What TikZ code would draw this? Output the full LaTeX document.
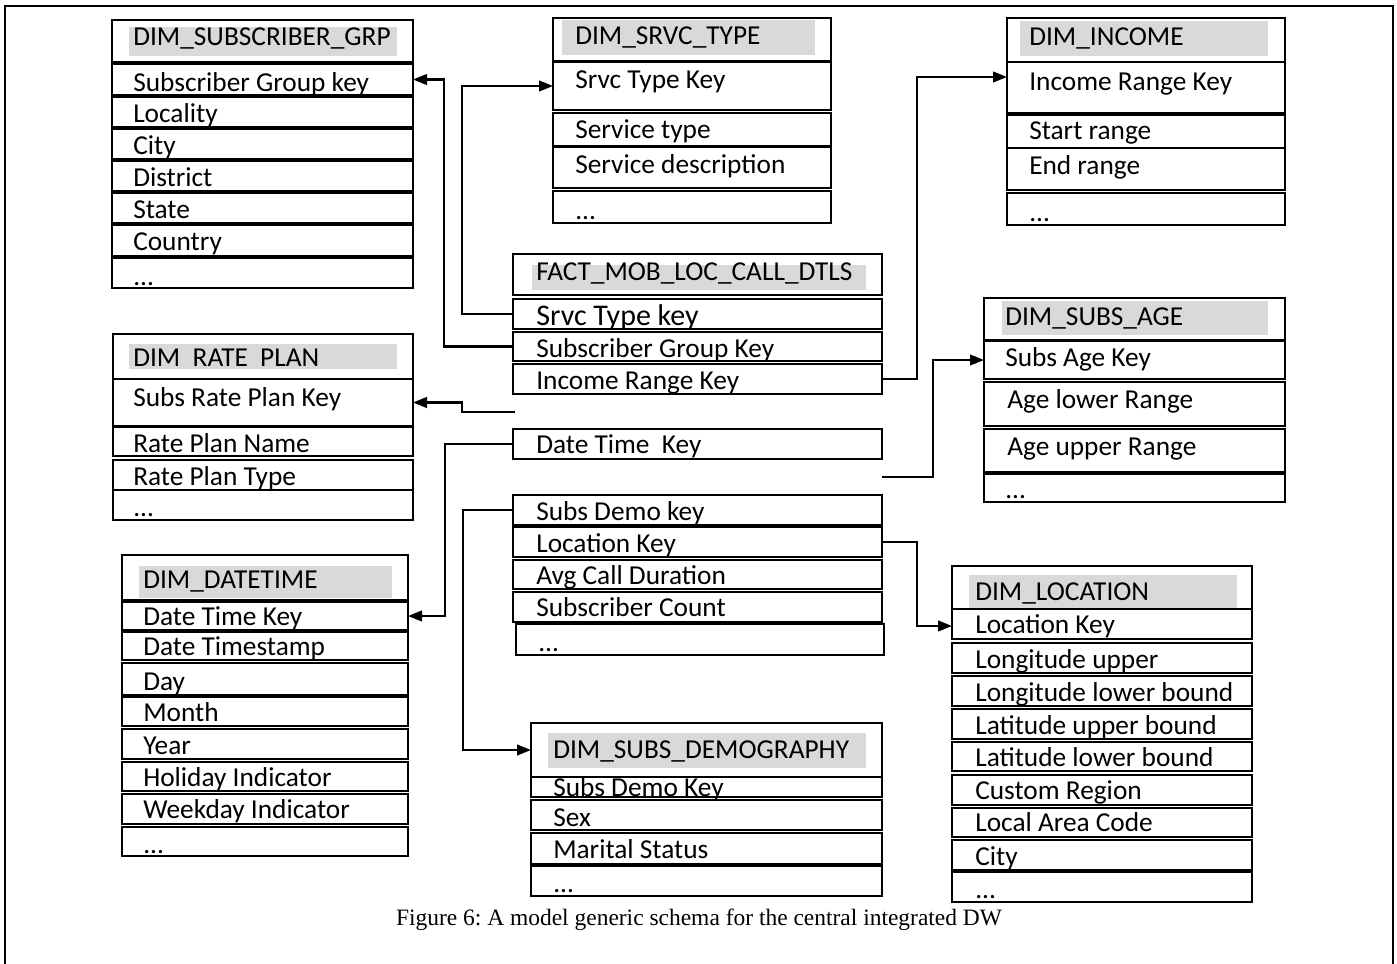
\documentclass[tikz,border=0pt]{standalone}
\usepackage{fontspec}
\setmainfont{Carlito}
\newfontfamily\capfont{Liberation Serif}
\usetikzlibrary{arrows.meta,fit,calc}
\definecolor{hdrgray}{HTML}{D9D9D9}
\tikzset{
  cellbox/.style={draw=black, fill=white, line width=1.4pt, inner sep=0pt, outer sep=0pt, rectangle},
  celltext/.style={inner sep=0pt, anchor=base west, font=\fontsize{20.5}{24}\selectfont},
  bigtext/.style={celltext, font=\fontsize{22.5}{26}\selectfont},
  conn/.style={line width=1.6pt, -{Triangle[length=10.5pt,width=8pt]}},
  framebox/.style={line width=2pt}
}
% one table row: name, corner, corner, text position, text
\newcommand\tcell[5]{%
  \node[cellbox, fit={#2 #3}] (#1) {};
  \node[celltext] (#1-t) at #4 {#5};}
% table header: name, corner, corner, grey band corners, text position, text
\newcommand\thead[7]{%
  \node[cellbox, fit={#2 #3}] (#1) {};
  \fill[hdrgray] #4 rectangle #5;
  \node[celltext] (#1-t) at #6 {#7};}
\frenchspacing
\begin{document}
\begin{tikzpicture}[x=0.75pt, y=-0.75pt]
\useasboundingbox (0,0) rectangle (1397,964);
\draw[framebox] (5,980) -- (5,6) -- (1393,6) -- (1393,980);

% DIM_SUBSCRIBER_GRP
\thead{sghdr}{(112,20)}{(413,62)}{(129,27)}{(397,56)}{(133,45)}{DIM\_SUBSCRIBER\_GRP}
\tcell{sgkey}{(112,64)}{(413,95)}{(133,91)}{Subscriber Group key}
\tcell{sgloc}{(112,97)}{(413,127)}{(133,122)}{Locality}
\tcell{sgcity}{(112,129)}{(413,159)}{(133,154)}{City}
\tcell{sgdist}{(112,161)}{(413,191)}{(133,186)}{District}
\tcell{sgstate}{(112,193)}{(413,223)}{(133,218)}{State}
\tcell{sgctry}{(112,225)}{(413,256)}{(133,250)}{Country}
\tcell{sgmore}{(112,258)}{(413,288)}{(133,285)}{...}

% DIM_SRVC_TYPE
\thead{sthdr}{(553,18)}{(831,61)}{(562,20)}{(815,55)}{(575,44)}{DIM\_SRVC\_TYPE}
\tcell{stkey}{(553,62)}{(831,110)}{(575,88)}{Srvc Type Key}
\tcell{sttype}{(553,113)}{(831,146)}{(575,138)}{Service type}
\tcell{stdesc}{(553,147)}{(831,188)}{(575,173)}{Service description}
\tcell{stmore}{(553,191)}{(831,223)}{(575,219)}{...}

% DIM_INCOME
\thead{inchdr}{(1007,18)}{(1285,62)}{(1020,21)}{(1268,56)}{(1029,45)}{DIM\_INCOME}
\tcell{inckey}{(1007,62)}{(1285,113)}{(1029,90)}{Income Range Key}
\tcell{incstart}{(1007,115)}{(1285,148)}{(1029,139)}{Start range}
\tcell{incend}{(1007,148)}{(1285,190)}{(1029,174)}{End range}
\tcell{incmore}{(1007,193)}{(1285,225)}{(1029,221)}{...}

% FACT_MOB_LOC_CALL_DTLS
\thead{fhdr}{(513,254)}{(882,295)}{(532,265)}{(866,290)}{(536,280)}{FACT\_MOB\_LOC\_CALL\_DTLS}
\node[cellbox, fit={(513,299) (882,329)}] (fsrvc) {};
\node[bigtext] (fsrvc-t) at (536,325) {Srvc Type key};
\tcell{fsub}{(513,332)}{(882,361)}{(536,357)}{Subscriber Group Key}
\tcell{finc}{(513,364)}{(882,394)}{(536,389)}{Income Range Key}
\tcell{fdt}{(513,429)}{(882,459)}{(536,453)}{Date Time\ \ Key}
\tcell{fdemo}{(513,495)}{(882,525)}{(536,520)}{Subs Demo key}
\tcell{floc}{(513,527)}{(882,557)}{(536,552)}{Location Key}
\tcell{favg}{(513,560)}{(882,589)}{(536,584)}{Avg Call Duration}
\tcell{fcnt}{(513,592)}{(882,622)}{(536,616)}{Subscriber Count}
\tcell{fmore}{(516,624)}{(884,655)}{(538,651)}{...}

% DIM_SUBS_AGE
\thead{agehdr}{(984,298)}{(1285,340)}{(1002,301)}{(1268,335)}{(1005,325)}{DIM\_SUBS\_AGE}
\tcell{agekey}{(984,341)}{(1285,379)}{(1005,366)}{Subs Age Key}
\tcell{agelow}{(984,382)}{(1285,426)}{(1007,408)}{Age lower Range}
\tcell{ageup}{(984,429)}{(1285,472)}{(1007,455)}{Age upper Range}
\tcell{agemore}{(984,474)}{(1285,502)}{(1005,498)}{...}

% DIM_RATE_PLAN
\thead{rphdr}{(113,334)}{(413,379)}{(129,344)}{(397,369)}{(133,366)}{DIM\ \ RATE\ \ PLAN}
\tcell{rpkey}{(113,379)}{(413,426)}{(133,406)}{Subs Rate Plan Key}
\tcell{rpname}{(113,427)}{(413,456)}{(133,452)}{Rate Plan Name}
\tcell{rptype}{(113,460)}{(413,490)}{(133,485)}{Rate Plan Type}
\tcell{rpmore}{(113,490)}{(413,520)}{(133,516)}{...}

% DIM_DATETIME
\thead{dthdr}{(122,555)}{(408,600)}{(139,566)}{(392,598)}{(143,588)}{DIM\_DATETIME}
\tcell{dtkey}{(122,602)}{(408,630)}{(143,625)}{Date Time Key}
\tcell{dtts}{(122,632)}{(408,660)}{(143,655)}{Date Timestamp}
\tcell{dtday}{(122,663)}{(408,695)}{(143,690)}{Day}
\tcell{dtmon}{(122,697)}{(408,726)}{(143,721)}{Month}
\tcell{dtyear}{(122,729)}{(408,759)}{(143,754)}{Year}
\tcell{dthol}{(122,762)}{(408,791)}{(143,786)}{Holiday Indicator}
\tcell{dtwk}{(122,794)}{(408,824)}{(143,818)}{Weekday Indicator}
\tcell{dtmore}{(122,827)}{(408,856)}{(143,853)}{...}

% DIM_SUBS_DEMOGRAPHY (header box drawn last, over the first row's text)
\tcell{demokey}{(531,777)}{(882,797)}{(553,796)}{Subs Demo Key}
\tcell{demosex}{(531,800)}{(882,830)}{(553,826)}{Sex}
\tcell{demomar}{(531,833)}{(882,864)}{(553,858)}{Marital Status}
\tcell{demomore}{(531,866)}{(882,896)}{(553,892)}{...}
\thead{demohdr}{(531,723)}{(882,777)}{(548,733)}{(866,768)}{(553,758)}{DIM\_SUBS\_DEMOGRAPHY}

% DIM_LOCATION
\thead{lochdr}{(952,566)}{(1252,609)}{(969,575)}{(1237,608)}{(975,600)}{DIM\_LOCATION}
\tcell{lockey}{(952,609)}{(1252,639)}{(975,633)}{Location Key}
\tcell{loclu}{(952,643)}{(1252,673)}{(975,668)}{Longitude upper}
\tcell{locllb}{(952,676)}{(1252,706)}{(975,701)}{Longitude lower bound}
\tcell{loclub}{(952,709)}{(1252,739)}{(975,734)}{Latitude upper bound}
\tcell{loclat}{(952,742)}{(1252,771)}{(975,766)}{Latitude lower bound}
\tcell{loccr}{(952,775)}{(1252,805)}{(975,799)}{Custom Region}
\tcell{loclac}{(952,808)}{(1252,837)}{(975,831)}{Local Area Code}
\tcell{loccity}{(952,840)}{(1252,870)}{(975,865)}{City}
\tcell{locmore}{(952,872)}{(1252,902)}{(975,898)}{...}

% key references from the fact table
\coordinate (rpfree) at (515,412);
\coordinate (agefree) at (882,477);
\draw[conn] (fsrvc.west) -- ++(-51,0) |- (stkey.west);
\draw[conn] (fsub.west) -- ++(-69,0) |- (sgkey.east);
\draw[conn] (rpfree) -- ++(-53,0) |- (rpkey.east);
\draw[conn] (finc.east) -- ++(35,0) |- ($(inckey.north west)+(0,15)$);
\draw[conn] (agefree) -- ++(51,0) |- (agekey.west);
\draw[conn] (fdt.west) -- ++(-68,0) |- (dtkey.east);
\draw[conn] (fdemo.west) -- ++(-50,0) |- (demohdr.west);
\draw[conn] (floc.east) -- ++(35,0) |- ($(lockey.west)+(0,2)$);

\node[font=\capfont\fontsize{17.6}{21}\selectfont, anchor=base, inner sep=0pt] (cap) at (699,925)
  {Figure 6: A model generic schema for the central integrated DW};
\end{tikzpicture}
\end{document}
